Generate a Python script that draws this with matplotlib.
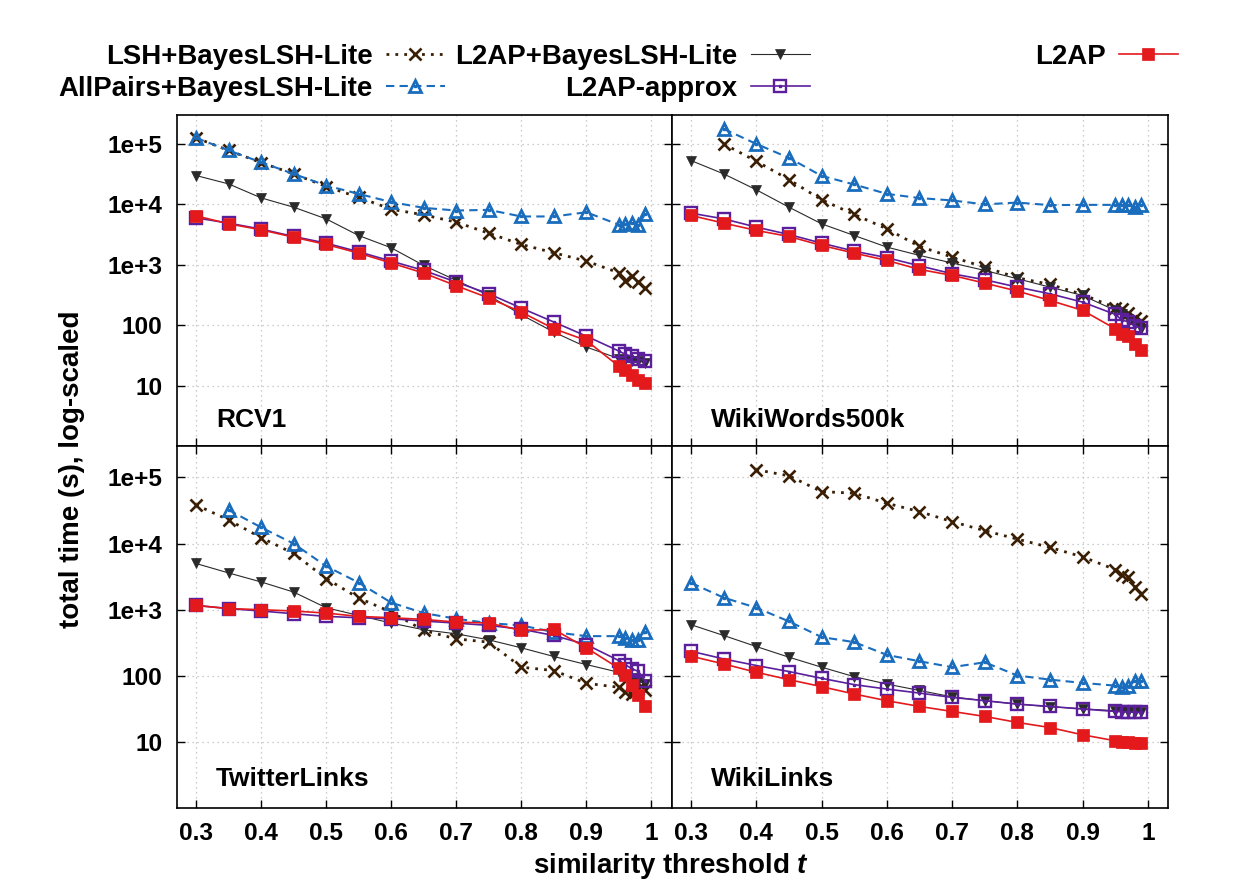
import numpy as np
import matplotlib.pyplot as plt
from matplotlib.ticker import NullLocator
from matplotlib.legend_handler import HandlerTuple

plt.rcParams['font.family'] = ['Liberation Sans', 'DejaVu Sans']
plt.rcParams['font.weight'] = 'bold'
plt.rcParams['mathtext.fontset'] = 'custom'
plt.rcParams['mathtext.it'] = 'Liberation Sans:italic:bold'

nan = np.nan

# similarity thresholds (x axis)
thresholds = [0.3, 0.35, 0.4, 0.45, 0.5, 0.55, 0.6, 0.65, 0.7, 0.75,
              0.8, 0.85, 0.9, 0.95, 0.96, 0.97, 0.98, 0.99]

# RCV1
rcv1_lsh = [1.26e5, 7.8e4, 4.9e4, 3.2e4, 1.97e4, 1.31e4, 8.3e3, 6.7e3, 5.07e3, 3.33e3,
            2.17e3, 1.58e3, 1.15e3, 738, 537, 650, 511, 411]
rcv1_allpairs = [1.26e5, 7.8e4, 4.97e4, 3.19e4, 2.05e4, 1.49e4, 1.09e4, 8.75e3, 7.9e3, 8.1e3,
                 6.3e3, 6.3e3, 7.4e3, 4.6e3, 4.7e3, 4.9e3, 4.6e3, 6.8e3]
rcv1_l2ap_bayes = [3.0e4, 2.18e4, 1.28e4, 8.97e3, 5.75e3, 3.05e3, 1.91e3, 975, 551, 311,
                   149, 77, 43.5, 28, 27, 26, 25.5, 24]
rcv1_l2ap_approx = [5.98e3, 4.89e3, 3.89e3, 2.94e3, 2.28e3, 1.64e3, 1.15e3, 806, 517, 331,
                    192, 113, 66, 37.4, 33, 30.5, 28, 25.6]
rcv1_l2ap = [6.46e3, 4.76e3, 3.79e3, 2.86e3, 2.17e3, 1.56e3, 1.07e3, 728, 450, 282,
             165, 87.5, 56, 20.9, 17.9, 14.8, 12.3, 11.1]

# WikiWords500k
ww_lsh = [nan, 1.0e5, 5.17e4, 2.57e4, 1.19e4, 6.8e3, 3.94e3, 2.01e3, 1.34e3, 915,
          610, 473, 323, 195, 187, 159, 133, 117]
ww_allpairs = [nan, 1.77e5, 1.0e5, 5.87e4, 2.96e4, 2.13e4, 1.49e4, 1.27e4, 1.16e4, 1.0e4,
               1.07e4, 9.7e3, 9.8e3, 9.8e3, 9.6e3, 9.6e3, 9.0e3, 9.6e3]
ww_l2ap_bayes = [5.3e4, 3.19e4, 1.74e4, 8.97e3, 4.76e3, 3.05e3, 1.96e3, 1.43e3, 1.07e3, 806,
                 587, 427, 311, 176, 155, 128, 106, 87.5]
ww_l2ap_approx = [7.15e3, 5.75e3, 4.2e3, 3.17e3, 2.28e3, 1.68e3, 1.31e3, 962, 710, 565,
                  427, 331, 241, 151, 123, 113, 96, 91]
ww_l2ap = [6.54e3, 4.89e3, 3.7e3, 2.94e3, 2.09e3, 1.56e3, 1.18e3, 838, 667, 497,
           367, 257, 176, 87.5, 70.6, 65.3, 49.4, 39.4]

# TwitterLinks
tw_lsh = [3.85e4, 2.28e4, 1.23e4, 7.1e3, 2.96e3, 1.5e3, 922, 486, 362, 323,
          135, 120, 77, 67, 56, 53, 63, 61]
tw_allpairs = [nan, 3.23e4, 1.76e4, 1.0e4, 4.55e3, 2.57e3, 1.28e3, 889, 729, 627,
               578, 458, 398, 398, 376, 342, 342, 458]
tw_l2ap_bayes = [5.0e3, 3.6e3, 2.63e3, 1.85e3, 1.07e3, 820, 627, 497, 432, 350,
                 265, 196, 148, 113, 101, 93, 84.5, 75]
tw_l2ap_approx = [1.16e3, 1.04e3, 955, 869, 792, 756, 730, 673, 627, 578,
                  508, 407, 297, 170, 148, 127, 117, 84.5]
tw_l2ap = [1.16e3, 1.04e3, 1.0e3, 955, 889, 792, 756, 713, 650, 627,
           486, 503, 265, 130, 104, 73.5, 51.8, 34.4]

# WikiLinks
wl_lsh = [nan, nan, 1.31e5, 1.06e5, 6.12e4, 5.78e4, 4.07e4, 3.05e4, 2.15e4, 1.57e4,
          1.17e4, 8.75e3, 6.3e3, 4.05e3, 3.33e3, 3.14e3, 2.21e3, 1.75e3]
wl_allpairs = [2.54e3, 1.52e3, 1.07e3, 665, 385, 323, 207, 166, 135, 160,
               101, 87.5, 78, 71, 68.5, 71, 82.5, 84.5]
wl_l2ap_bayes = [592, 407, 277, 191, 135, 97, 75, 60, 48, 42,
                 37.3, 34, 31.7, 29.6, 29, 28.8, 28.6, 28.5]
wl_l2ap_approx = [235, 180, 143, 116, 91.6, 73.5, 63, 54.8, 47.1, 42,
                  37.3, 34.4, 31.4, 28.9, 28.6, 28.3, 28.0, 27.9]
wl_l2ap = [198, 151, 113, 87.5, 68.5, 53, 42, 34.4, 28.9, 24.3,
           19.7, 16.5, 12.8, 10.4, 10.0, 9.8, 9.5, 9.5]

method_labels = ['LSH+BayesLSH-Lite', 'AllPairs+BayesLSH-Lite', 'L2AP+BayesLSH-Lite',
                 'L2AP-approx', 'L2AP']

panels = [
    ('RCV1', [rcv1_lsh, rcv1_allpairs, rcv1_l2ap_bayes, rcv1_l2ap_approx, rcv1_l2ap]),
    ('WikiWords500k', [ww_lsh, ww_allpairs, ww_l2ap_bayes, ww_l2ap_approx, ww_l2ap]),
    ('TwitterLinks', [tw_lsh, tw_allpairs, tw_l2ap_bayes, tw_l2ap_approx, tw_l2ap]),
    ('WikiLinks', [wl_lsh, wl_allpairs, wl_l2ap_bayes, wl_l2ap_approx, wl_l2ap]),
]

# axes boxes in figure fractions (gnuplot multiplot layout)
boxes = [
    [0.1428, 0.4977, 0.4005, 0.3727],
    [0.5433, 0.4977, 0.4017, 0.3727],
    [0.1428, 0.0901, 0.4005, 0.4077],
    [0.5433, 0.0901, 0.4017, 0.4077],
]

# color, linestyle, linewidth, marker, markersize, facecolor, edgewidth, centre dot
styles = [
    ('#3a1f05', (0, (1, 2.2)), 2.0, 'x', 9.0, '#3a1f05', 1.9, False),
    ('#1a6cbd', (0, (4, 2.5)), 1.5, '^', 8.5, 'none', 2.0, True),
    ('#2a2a2a', '-', 0.8, 'v', 6.5, '#2a2a2a', 0.5, False),
    ('#5b1f9c', '-', 1.2, 's', 8.0, 'none', 1.7, True),
    ('#e3191c', '-', 1.2, 's', 8.5, '#e3191c', 0.5, False),
]

fig = plt.figure(figsize=(12.36, 8.88), dpi=100)
legend_handles = []

for i, (name, series) in enumerate(panels):
    ax = fig.add_axes(boxes[i])
    for j, vals in enumerate(series):
        col, ls, lw, mk, ms, mfc, mew, dot = styles[j]
        ln, = ax.plot(thresholds, vals, color=col, linestyle=ls, linewidth=lw,
                      marker=mk, markersize=ms, markerfacecolor=mfc,
                      markeredgecolor=col, markeredgewidth=mew)
        h = ln
        if dot:
            d, = ax.plot(thresholds, vals, linestyle='none', marker='s',
                         markersize=1.6, color=col)
            h = (ln, d)
        if i == 0:
            legend_handles.append(h)

    ax.set_yscale('log')
    ax.set_ylim(1, 3e5)
    ax.set_xlim(0.27, 1.031)
    ax.set_yticks([10, 100, 1e3, 1e4, 1e5])
    ax.set_yticklabels(['10', '100', '1e+3', '1e+4', '1e+5'])
    ax.yaxis.set_minor_locator(NullLocator())
    ax.set_xticks([0.3, 0.4, 0.5, 0.6, 0.7, 0.8, 0.9, 1.0])
    ax.set_xticklabels(['0.3', '0.4', '0.5', '0.6', '0.7', '0.8', '0.9', '1'])
    ax.grid(True, color='#bcbcbc', linestyle=(0, (1, 3)), linewidth=0.9)
    ax.set_axisbelow(True)
    top_row = i < 2
    ax.tick_params(direction='in', length=6, width=1.0, labelsize=17.6,
                   top=not top_row, right=True, pad=10)
    if top_row:
        ax.tick_params(labelbottom=False)
    if i % 2 == 1:
        ax.tick_params(labelleft=False)
    for sp in ax.spines.values():
        sp.set_linewidth(1.2)
    ax.text(0.08, 0.08, name, transform=ax.transAxes, fontsize=19,
            fontweight='bold', ha='left', va='center')

fig.text(72 / 1236, 1 - 469 / 888, 'total time (s), log-scaled', rotation=90,
         fontsize=20, fontweight='bold', ha='center', va='center')
fig.text(671 / 1236, 1 - 866 / 888, 'similarity threshold $t$',
         fontsize=20, fontweight='bold', ha='center', va='center')

# gnuplot-like key: three right-aligned columns
legend_kw = dict(loc='upper right', markerfirst=False, frameon=False, fontsize=19.9,
                 handlelength=2.15, handletextpad=0.47, labelspacing=0.22,
                 borderpad=0, borderaxespad=0, numpoints=1,
                 handler_map={tuple: HandlerTuple(ndivide=1)})
columns = [([0, 1], 445), ([2, 3], 810), ([4], 1178)]
for idx, xr in columns:
    fig.legend([legend_handles[k] for k in idx], [method_labels[k] for k in idx],
               bbox_to_anchor=(xr / 1236, 1 - 44 / 888), **legend_kw)

fig.savefig('out.png', dpi=100)
